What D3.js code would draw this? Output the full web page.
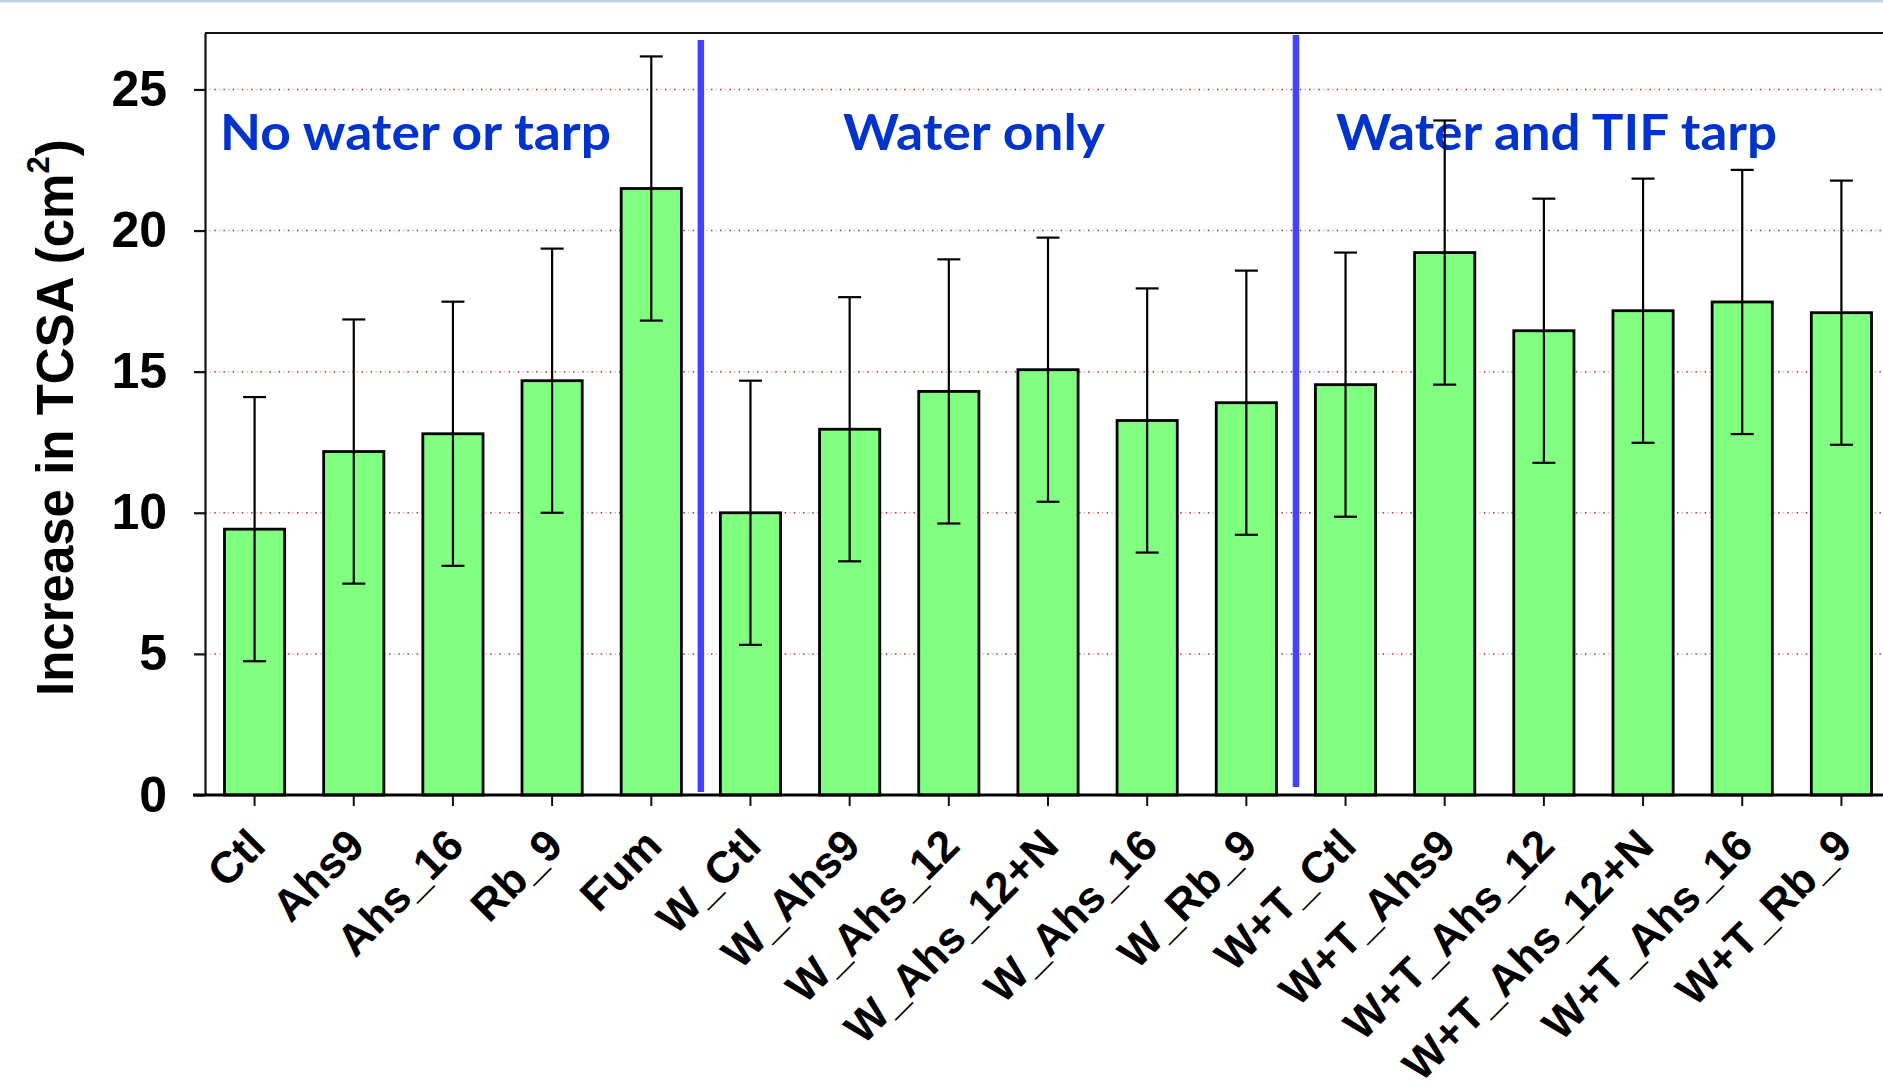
<!DOCTYPE html>
<html>
<head>
<meta charset="utf-8">
<script src="https://cdn.jsdelivr.net/npm/d3@7"></script>
<style>
  html, body { margin: 0; padding: 0; background: #ffffff; overflow: hidden; }
  svg { display: block; }
</style>
</head>
<body>
<svg id="chart" width="1883" height="1089"></svg>
<script>
// Treatments, in plotting order
const categories = [
  "Ctl", "Ahs9", "Ahs_16", "Rb_9", "Fum",
  "W_Ctl", "W_Ahs9", "W_Ahs_12", "W_Ahs_12+N", "W_Ahs_16", "W_Rb_9",
  "W+T_Ctl", "W+T_Ahs9", "W+T_Ahs_12", "W+T_Ahs_12+N", "W+T_Ahs_16", "W+T_Rb_9"
];
// Mean increase in trunk cross-sectional area (cm²)
const means = [
  9.42, 12.17, 12.80, 14.68, 21.49,
  10.00, 12.96, 14.30, 15.07, 13.27, 13.90,
  14.54, 19.22, 16.45, 17.16, 17.47, 17.09
];
// Half-width of each error bar (cm²)
const errors = [
  4.68, 4.68, 4.68, 4.68, 4.68,
  4.68, 4.68, 4.68, 4.68, 4.68, 4.68,
  4.68, 4.68, 4.68, 4.68, 4.68, 4.68
];
const yTicks = [0, 5, 10, 15, 20, 25];
const groupNames = ["No water or tarp", "Water only", "Water and TIF tarp"];
// first category index of each group after the first
const groupStarts = [5, 11];

const svg = d3.select("#chart");

// slide strip along the top edge
svg.append("rect").attr("x", 0).attr("y", 0).attr("width", 1883).attr("height", 2.5)
  .attr("fill", "#c3d3e7");

const x = d3.scaleBand()
  .domain(categories)
  .range([205, 1891])
  .paddingInner(0.393)
  .paddingOuter(0.1965);

const y = d3.scaleLinear().domain([0, 27]).range([795, 33]);

const left = x.range()[0], right = x.range()[1];

// dotted horizontal gridlines
const grid = svg.append("g");
yTicks.filter(t => t > 0).forEach(t => {
  grid.append("line")
    .attr("x1", left).attr("x2", right)
    .attr("y1", y(t)).attr("y2", y(t))
    .attr("stroke", "#dcb8b8").attr("stroke-width", 1.5)
    .attr("stroke-dasharray", "1.5,7.7").attr("stroke-dashoffset", -4.6);
  grid.append("line")
    .attr("x1", left).attr("x2", right)
    .attr("y1", y(t)).attr("y2", y(t))
    .attr("stroke", "#c02828").attr("stroke-width", 1.5)
    .attr("stroke-dasharray", "1.5,7.7");
});

// top frame line
svg.append("line")
  .attr("x1", left).attr("x2", right)
  .attr("y1", y(27)).attr("y2", y(27))
  .attr("stroke", "#111").attr("stroke-width", 2.2);

// group separators
const sepTops = [y(27) + 7, y(27) + 2];
const sepBottoms = [y(0) - 3, y(0) - 8];
groupStarts.forEach((gi, k) => {
  const a = x(categories[gi - 1]) + x.bandwidth() / 2;
  const b = x(categories[gi]) + x.bandwidth() / 2;
  const sx = (a + b) / 2;
  svg.append("line")
    .attr("x1", sx).attr("x2", sx)
    .attr("y1", sepTops[k]).attr("y2", sepBottoms[k])
    .attr("stroke", "#4242ff").attr("stroke-width", 6.5);
});

// bars
svg.append("g").selectAll("rect")
  .data(categories)
  .join("rect")
  .attr("x", d => x(d))
  .attr("width", x.bandwidth())
  .attr("y", (d, i) => y(means[i]))
  .attr("height", (d, i) => y(0) - y(means[i]))
  .attr("fill", "#80ff80")
  .attr("stroke", "#000")
  .attr("stroke-width", 2.8);

// group titles
const groupLayout = [
  { x: 220, w: 391 },
  { x: 843, w: 262 },
  { x: 1336, w: 441 }
];
svg.append("g").selectAll("text")
  .data(groupNames)
  .join("text")
  .attr("x", (d, i) => groupLayout[i].x)
  .attr("y", 150)
  .attr("textLength", (d, i) => groupLayout[i].w)
  .attr("lengthAdjust", "spacingAndGlyphs")
  .attr("font-family", "Lato, 'Open Sans', sans-serif")
  .attr("font-weight", 700)
  .attr("font-size", 49)
  .attr("fill", "#0033cc")
  .text(d => d);

// error bars
const capW = 23;
const eb = svg.append("g").attr("stroke", "#000").attr("stroke-width", 2.2);
categories.forEach((c, i) => {
  const cx = x(c) + x.bandwidth() / 2;
  const hi = y(means[i] + errors[i]);
  const lo = y(means[i] - errors[i]);
  eb.append("line").attr("x1", cx).attr("x2", cx).attr("y1", hi).attr("y2", lo);
  eb.append("line").attr("x1", cx - capW / 2).attr("x2", cx + capW / 2).attr("y1", hi).attr("y2", hi);
  eb.append("line").attr("x1", cx - capW / 2).attr("x2", cx + capW / 2).attr("y1", lo).attr("y2", lo);
});

// y axis
const yAxis = svg.append("g")
  .attr("transform", `translate(${left},0)`)
  .call(d3.axisLeft(y).tickValues(yTicks).tickSize(11).tickPadding(27).tickSizeOuter(0));
yAxis.select(".domain").attr("stroke", "#111").attr("stroke-width", 2.2);
yAxis.selectAll(".tick line").attr("stroke", "#111").attr("stroke-width", 2.2);
yAxis.selectAll(".tick text")
  .attr("font-family", "'Liberation Sans', Arial, sans-serif")
  .attr("font-weight", 700)
  .attr("font-size", 50)
  .attr("fill", "#000");

// x axis
const xAxis = svg.append("g")
  .attr("transform", `translate(0,${y(0)})`)
  .call(d3.axisBottom(x).tickSize(11).tickSizeOuter(0));
xAxis.select(".domain").attr("stroke", "#000").attr("stroke-width", 3.2)
  .attr("d", `M${left - 12},0H${right}`);
xAxis.selectAll(".tick line").attr("stroke", "#111").attr("stroke-width", 2);
xAxis.selectAll(".tick text")
  .attr("font-family", "'Liberation Sans', Arial, sans-serif")
  .attr("font-weight", 700)
  .attr("font-size", 44)
  .attr("fill", "#000")
  .attr("text-anchor", "end")
  .attr("dy", null)
  .attr("y", null)
  .attr("transform", "translate(13,53) rotate(-45)");

// y axis title
const yt = svg.append("text")
  .attr("transform", "translate(73,696) rotate(-90)")
  .attr("font-family", "'Liberation Sans', Arial, sans-serif")
  .attr("font-weight", 700)
  .attr("font-size", 51)
  .attr("fill", "#000");
yt.append("tspan").text("Increase in TCSA (cm");
yt.append("tspan").attr("font-size", 31).attr("dy", -24).text("2");
yt.append("tspan").attr("dy", 24).text(")");
</script>
</body>
</html>
